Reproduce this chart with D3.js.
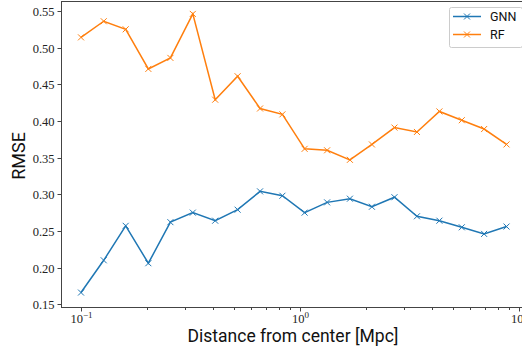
<!DOCTYPE html>
<html lang="en">
<head>
    <meta charset="UTF-8">
    <title>RMSE vs distance</title>
    <script src="https://cdn.jsdelivr.net/npm/d3@7"></script>
    <style>
        body { margin: 0; background: #fff; }
    </style>
</head>
<body>
<svg width="522" height="349"></svg>

<script>
    // radial bins (Mpc)
    var distance = [0.100, 0.127, 0.160, 0.203, 0.256, 0.324, 0.410, 0.519, 0.657, 0.831,
                    1.05, 1.33, 1.69, 2.13, 2.70, 3.42, 4.33, 5.48, 6.93, 8.77];
    var gnn = [0.166, 0.210, 0.257, 0.206, 0.262, 0.275, 0.264, 0.279, 0.304, 0.298,
               0.275, 0.289, 0.294, 0.283, 0.296, 0.270, 0.264, 0.255, 0.246, 0.256];
    var rf = [0.514, 0.536, 0.525, 0.471, 0.486, 0.546, 0.429, 0.461, 0.417, 0.409,
              0.362, 0.360, 0.347, 0.368, 0.391, 0.385, 0.413, 0.401, 0.389, 0.368];
    var yTicks = [0.15, 0.20, 0.25, 0.30, 0.35, 0.40, 0.45, 0.50, 0.55];
    var xTicks = [0.1, 1, 10];
    var xTickExp = ["\u22121", "0", "1"];

    var series = [
        {name: "GNN", values: gnn, color: "#1f77b4"},
        {name: "RF", values: rf, color: "#ff7f0e"}
    ];

    var svg = d3.select("svg");
    // plot box (right edge runs past the picture, as in the original crop)
    var pLeft = 61, pRight = 528, pTop = 1, pBottom = 307;

    // x range so that 0.1 -> 81 and 1 -> 300
    var x = d3.scaleLog()
        .domain([Math.pow(10, -1 - 20 / 219), Math.pow(10, -1 + (pRight - 81) / 219)])
        .range([pLeft, pRight]);
    var y = d3.scaleLinear().domain([0.1463, 0.5636]).range([pBottom, pTop]);

    var serif = "'Liberation Serif', 'DejaVu Serif', serif";
    var sans = "Roboto, 'DejaVu Sans', sans-serif";

    // axes frame
    svg.append("rect")
        .attr("x", pLeft + 0.5).attr("y", pTop + 0.5)
        .attr("width", pRight - pLeft).attr("height", pBottom - pTop)
        .attr("fill", "none").attr("stroke", "#444").attr("stroke-width", 1);

    // y ticks
    var yAxis = svg.append("g").attr("transform", "translate(" + (pLeft + 0.5) + ",0)");
    yTicks.forEach(function (t) {
        var py = Math.round(y(t)) + 0.5;
        yAxis.append("line").attr("x1", -4).attr("x2", 0).attr("y1", py).attr("y2", py)
            .attr("stroke", "#444");
        yAxis.append("text").attr("x", -7).attr("y", py).attr("dy", "0.35em")
            .attr("text-anchor", "end").attr("font-family", serif).attr("font-size", 12.5)
            .attr("fill", "#222").text(t.toFixed(2));
    });

    // x ticks (major + minor)
    var xAxis = svg.append("g").attr("transform", "translate(0," + (pBottom + 0.5) + ")");
    var minor = [];
    [0.1, 1].forEach(function (d) {
        for (var k = 2; k <= 9; k++) minor.push(d * k);
    });
    minor.forEach(function (t) {
        var px = Math.round(x(t)) + 0.5;
        xAxis.append("line").attr("x1", px).attr("x2", px).attr("y1", 0).attr("y2", 2.5)
            .attr("stroke", "#444");
    });
    xTicks.forEach(function (t, i) {
        var px = Math.round(x(t)) + 0.5;
        xAxis.append("line").attr("x1", px).attr("x2", px).attr("y1", 0).attr("y2", 4)
            .attr("stroke", "#444");
        var lab = xAxis.append("text").attr("x", px).attr("y", 15)
            .attr("text-anchor", "middle").attr("font-family", serif).attr("font-size", 12.5)
            .attr("fill", "#222");
        lab.append("tspan").text("10");
        lab.append("tspan").attr("dy", -5).attr("font-size", 9).text(xTickExp[i]);
    });

    // lines + x markers
    var line = d3.line()
        .x(function (d, i) { return x(distance[i]); })
        .y(function (d) { return y(d); });

    var cross = "M-3,-3L3,3M-3,3L3,-3";

    series.forEach(function (s) {
        svg.append("path").datum(s.values)
            .attr("d", line).attr("fill", "none")
            .attr("stroke", s.color).attr("stroke-width", 1.5);
        svg.append("g").selectAll("path")
            .data(s.values)
            .enter().append("path")
            .attr("transform", function (d, i) {
                return "translate(" + x(distance[i]) + "," + y(d) + ")";
            })
            .attr("d", cross).attr("stroke", s.color).attr("stroke-width", 1);
    });

    // axis labels
    svg.append("text")
        .attr("transform", "translate(25,156) rotate(-90)")
        .attr("text-anchor", "middle").attr("font-family", sans).attr("font-size", 18)
        .attr("fill", "#111").text("RMSE");
    svg.append("text")
        .attr("x", 293).attr("y", 342)
        .attr("text-anchor", "middle").attr("font-family", sans).attr("font-size", 17.5)
        .attr("fill", "#111").text("Distance from center [Mpc]");

    // legend
    var legend = svg.append("g").attr("transform", "translate(449,7)");
    legend.append("rect").attr("x", 0.5).attr("y", 0.5).attr("width", 73).attr("height", 40)
        .attr("rx", 2).attr("fill", "#fff").attr("fill-opacity", 0.8)
        .attr("stroke", "#ccc").attr("stroke-width", 1);
    series.forEach(function (s, i) {
        var ly = 9.5 + i * 18;
        legend.append("line").attr("x1", 4).attr("x2", 32).attr("y1", ly).attr("y2", ly)
            .attr("stroke", s.color).attr("stroke-width", 1.5);
        legend.append("path").attr("transform", "translate(18," + ly + ")")
            .attr("d", cross).attr("stroke", s.color).attr("stroke-width", 1);
        legend.append("text").attr("x", 41).attr("y", ly).attr("dy", "0.35em")
            .attr("font-family", sans).attr("font-size", 12.5).attr("fill", "#111")
            .text(s.name);
    });
</script>

</body>
</html>
